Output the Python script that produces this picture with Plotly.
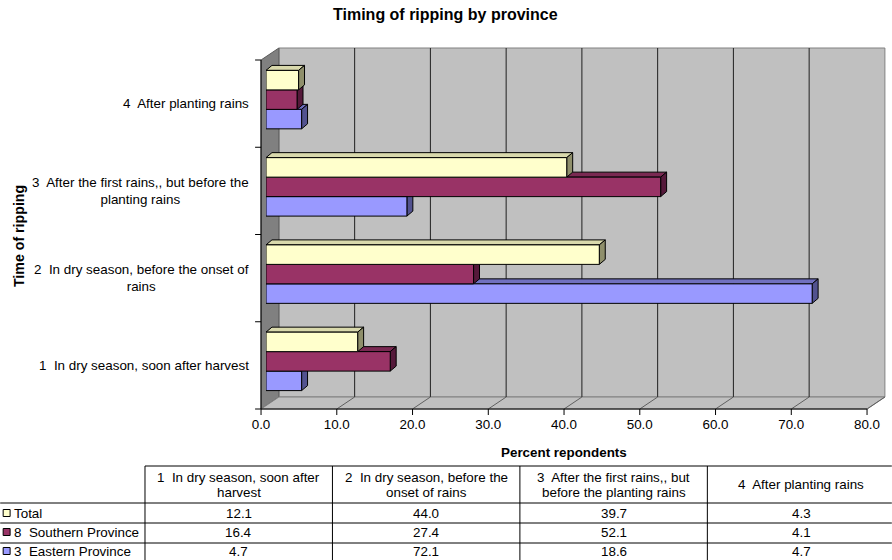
import plotly.graph_objects as go

# ---------------- data ----------------
categories = [
    "1  In dry season, soon after harvest",
    "2  In dry season, before the onset of rains",
    "3  After the first rains,, but before the planting rains",
    "4  After planting rains",
]
axis_label_lines = [
    ["1  In dry season, soon after harvest"],
    ["2  In dry season, before the onset of", "rains"],
    ["3  After the first rains,, but before the", "planting rains"],
    ["4  After planting rains"],
]
header_lines = [
    ["1  In dry season, soon after", "harvest"],
    ["2  In dry season, before the", "onset of rains"],
    ["3  After the first rains,, but", "before the planting rains"],
    ["4  After planting rains"],
]
series_names = ["Total", "8  Southern Province", "3  Eastern Province"]
total = [12.1, 44.0, 39.7, 4.3]
southern = [16.4, 27.4, 52.1, 4.1]
eastern = [4.7, 72.1, 18.6, 4.7]
x_ticks = [0, 10, 20, 30, 40, 50, 60, 70, 80]

title = "Timing of ripping by province"
x_title = "Percent repondents"
y_title = "Time of ripping"

# ---------------- styling / geometry ----------------
FONT = "Liberation Sans, Arial, sans-serif"
FS = 13.4
FIG_W, FIG_H = 892, 560
PL, PR, PT, PB = 266, 877, 56, 405          # plot area (bar plane) in px
XMAX = 80
YMIN, YMAX = -0.5, 3.5
FRONT_DX, FRONT_DY = -5, 4                  # front plane offset from bar plane (px)
BACK_DX, BACK_DY = 13, -8                   # back wall offset from bar plane (px)
BAR_DX, BAR_DY = 6, 5                       # bar depth (px right, px up)

front_col = {"Total": "#FFFFCC", "8  Southern Province": "#993366", "3  Eastern Province": "#9999FF"}
top_col = {"Total": "#D9D9AC", "8  Southern Province": "#7A2952", "3  Eastern Province": "#7070C0"}
side_col = {"Total": "#8F8F6B", "8  Southern Province": "#55193A", "3  Eastern Province": "#52528F"}

values = {"Total": total, "8  Southern Province": southern, "3  Eastern Province": eastern}

GROUP = 0.67
BW = GROUP / 3
order = ["3  Eastern Province", "8  Southern Province", "Total"]  # bottom -> top within group
offsets = {name: -GROUP / 2 + i * BW for i, name in enumerate(order)}


def px(x):
    return (x - PL) / (PR - PL)


def py(y):
    return (PB - y) / (PB - PT)


def bx(v):  # data x -> px on bar plane
    return PL + v * (PR - PL) / XMAX


def by(c):  # data y -> px on bar plane
    return PT + (YMAX - c) * (PB - PT) / (YMAX - YMIN)


ypos = list(range(len(categories)))

fig = go.Figure()
for name in order:
    fig.add_trace(go.Bar(
        y=ypos, x=values[name], orientation="h", name=name,
        width=BW, offset=offsets[name],
        marker=dict(color=front_col[name], line=dict(color="black", width=1)),
        hoverinfo="skip",
    ))

shapes = []
LB = dict(layer="below", xref="paper", yref="paper")

# back wall
bl, br = PL + BACK_DX, PR + BACK_DX
bt, bb = PT + BACK_DY, PB + BACK_DY
fl, fr = PL + FRONT_DX, PR + FRONT_DX
ft, fb = PT + FRONT_DY, PB + FRONT_DY
shapes.append(dict(type="rect", x0=px(bl), x1=px(br), y0=py(bb), y1=py(bt),
                   fillcolor="#C0C0C0", line=dict(color="#808080", width=1), **LB))
# left wall
shapes.append(dict(type="path",
                   path=f"M{px(fl)},{py(ft)} L{px(bl)},{py(bt)} L{px(bl)},{py(bb)} L{px(fl)},{py(fb)} Z",
                   fillcolor="#808080", line=dict(color="#5A5A5A", width=1), **LB))
# floor
shapes.append(dict(type="path",
                   path=f"M{px(fl)},{py(fb)} L{px(bl)},{py(bb)} L{px(br)},{py(bb)} L{px(fr)},{py(fb)} Z",
                   fillcolor="#C0C0C0", line=dict(color="#808080", width=1), **LB))
# gridlines on back wall and floor
for t in x_ticks:
    xb = bx(t) + BACK_DX
    xf = bx(t) + FRONT_DX
    if 0 < t < XMAX:
        shapes.append(dict(type="line", x0=px(xb), x1=px(xb), y0=py(bt), y1=py(bb),
                           line=dict(color="#202020", width=1), **LB))
    if t > 0:
        shapes.append(dict(type="line", x0=px(xf), x1=px(xb), y0=py(fb), y1=py(bb),
                           line=dict(color="#606060", width=1), **LB))
# front axis lines and ticks
shapes.append(dict(type="line", x0=px(fl), x1=px(fr), y0=py(fb), y1=py(fb),
                   line=dict(color="black", width=1), **LB))
shapes.append(dict(type="line", x0=px(fl), x1=px(fl), y0=py(ft), y1=py(fb),
                   line=dict(color="black", width=1), **LB))
for t in x_ticks:
    xf = bx(t) + FRONT_DX
    shapes.append(dict(type="line", x0=px(xf), x1=px(xf), y0=py(fb), y1=py(fb + 6),
                       line=dict(color="black", width=1), **LB))
for k in range(len(categories) + 1):
    yf = by(YMIN + k) + FRONT_DY
    shapes.append(dict(type="line", x0=px(fl - 6), x1=px(fl), y0=py(yf), y1=py(yf),
                       line=dict(color="black", width=1), **LB))

# 3D faces of bars (data coordinates)
ddx = BAR_DX * XMAX / (PR - PL)
ddy = BAR_DY * (YMAX - YMIN) / (PB - PT)
for name in order:
    for c, v in zip(ypos, values[name]):
        y0 = c + offsets[name]
        y1 = y0 + BW
        shapes.append(dict(type="path", xref="x", yref="y", layer="below",
                           path=f"M0,{y1} L{v},{y1} L{v + ddx},{y1 + ddy} L{ddx},{y1 + ddy} Z",
                           fillcolor=top_col[name], line=dict(color="black", width=1)))
        shapes.append(dict(type="path", xref="x", yref="y", layer="below",
                           path=f"M{v},{y0} L{v},{y1} L{v + ddx},{y1 + ddy} L{v + ddx},{y0 + ddy} Z",
                           fillcolor=side_col[name], line=dict(color="black", width=1)))

# ---------------- data table ----------------
col_edges = [144, 333, 522, 711, 900]
row_lines = [503, 523, 543]
header_top = 466
for xe in col_edges[:-1]:
    shapes.append(dict(type="line", x0=px(xe), x1=px(xe), y0=py(header_top), y1=py(FIG_H + 2),
                       line=dict(color="black", width=1), **LB))
shapes.append(dict(type="line", x0=px(col_edges[0]), x1=px(FIG_W + 5), y0=py(header_top), y1=py(header_top),
                   line=dict(color="black", width=1), **LB))
for yl in row_lines:
    shapes.append(dict(type="line", x0=px(-2), x1=px(FIG_W + 5), y0=py(yl), y1=py(yl),
                       line=dict(color="black", width=1), **LB))

annotations = []
base_font = dict(family=FONT, size=FS, color="black")

# title and axis titles
annotations.append(dict(text=f"<b>{title}</b>", x=px(447), y=py(14), xref="paper", yref="paper",
                        xanchor="center", yanchor="middle", showarrow=False,
                        font=dict(family=FONT, size=16, color="black")))
annotations.append(dict(text=f"<b>{x_title}</b>", x=px(566), y=py(452), xref="paper", yref="paper",
                        xanchor="center", yanchor="middle", showarrow=False, font=base_font))
annotations.append(dict(text=f"<b>{y_title}</b>", x=px(17), y=py(236), xref="paper", yref="paper",
                        xanchor="center", yanchor="middle", textangle=-90, showarrow=False,
                        font=dict(family=FONT, size=14.2, color="black")))

# category labels on the y axis
for c, lines in zip(ypos, axis_label_lines):
    annotations.append(dict(text="<br>".join(lines), x=px(251), y=c, xref="paper", yref="y",
                            xanchor="right", yanchor="middle", align="center", yshift=-FRONT_DY,
                            showarrow=False, font=base_font))

# header cells
LINE_H = 15
for i, lines in enumerate(header_lines):
    cx = (col_edges[i] + col_edges[i + 1]) / 2
    cy = (header_top + row_lines[0]) / 2
    n = len(lines)
    for j, ln in enumerate(lines):
        yy = cy + (j - (n - 1) / 2) * LINE_H
        annotations.append(dict(text=ln, x=px(cx), y=py(yy), xref="paper", yref="paper",
                                xanchor="center", yanchor="middle", showarrow=False, font=base_font))

# body rows
row_centers = [513, 532, 551]
for r, name in enumerate(series_names):
    cy = row_centers[r]
    shapes.append(dict(type="rect", x0=px(1), x1=px(8), y0=py(cy + 3.5), y1=py(cy - 3.5),
                       fillcolor=front_col[name], line=dict(color="black", width=1), **LB))
    annotations.append(dict(text=name, x=px(10), y=py(cy), xref="paper", yref="paper",
                            xanchor="left", yanchor="middle", showarrow=False, font=base_font))
    for i, v in enumerate(values[name]):
        cx = (col_edges[i] + col_edges[i + 1]) / 2
        annotations.append(dict(text=f"{v:.1f}", x=px(cx), y=py(cy), xref="paper", yref="paper",
                                xanchor="center", yanchor="middle", showarrow=False, font=base_font))

fig.update_layout(
    width=FIG_W, height=FIG_H,
    margin=dict(l=PL, r=FIG_W - PR, t=PT, b=FIG_H - PB, pad=0),
    paper_bgcolor="white", plot_bgcolor="rgba(0,0,0,0)",
    barmode="overlay", showlegend=False, hovermode=False,
    font=base_font,
    xaxis=dict(range=[0, XMAX], tickvals=x_ticks, tickformat=".1f", ticks="",
               showgrid=False, zeroline=False, showline=False,
               ticklabelshift=FRONT_DX, ticklabelstandoff=10,
               tickfont=dict(family=FONT, size=FS, color="black")),
    yaxis=dict(range=[YMIN, YMAX], showticklabels=False, ticks="",
               showgrid=False, zeroline=False, showline=False),
    shapes=shapes, annotations=annotations,
)

fig.write_html("out.html")
